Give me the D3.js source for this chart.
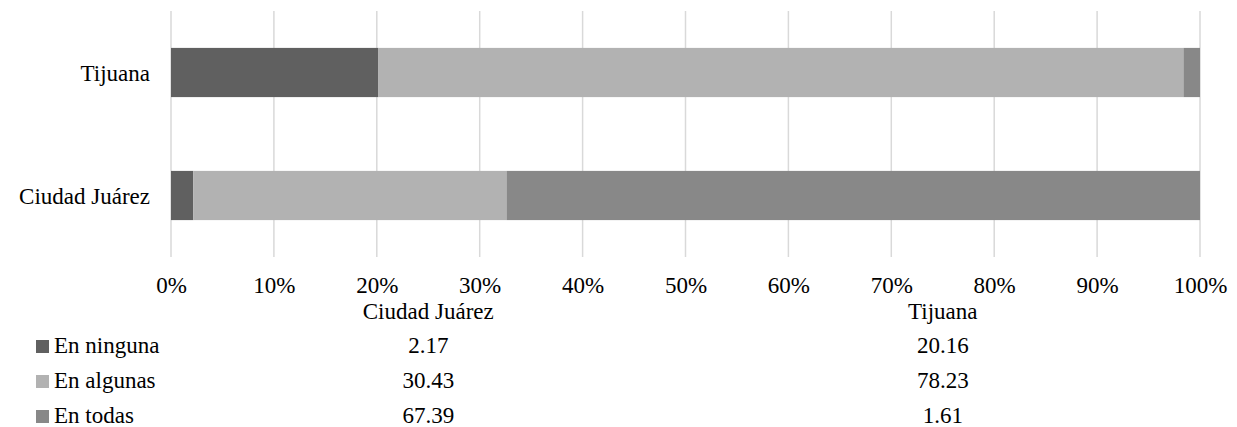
<!DOCTYPE html>
<html>
<head>
<meta charset="utf-8">
<script src="https://cdn.jsdelivr.net/npm/d3@7"></script>
<style>
  html, body { margin: 0; padding: 0; background: #fff; }
</style>
</head>
<body>
<svg id="chart" width="1237" height="427"></svg>
<script>
// Cities, drawn top to bottom
const cities = ["Tijuana", "Ciudad Juárez"];
// Table column order (below the axis)
const tableCities = ["Ciudad Juárez", "Tijuana"];
const seriesNames = ["En ninguna", "En algunas", "En todas"];
const seriesColors = ["#606060", "#b2b2b2", "#888888"];
// Percent per city for each series
const enNinguna = { "Ciudad Juárez": 2.17, "Tijuana": 20.16 };
const enAlgunas = { "Ciudad Juárez": 30.43, "Tijuana": 78.23 };
const enTodas   = { "Ciudad Juárez": 67.39, "Tijuana": 1.61 };
const tickValues = [0, 0.1, 0.2, 0.3, 0.4, 0.5, 0.6, 0.7, 0.8, 0.9, 1.0];

const seriesData = [enNinguna, enAlgunas, enTodas];
const rows = cities.map(c => {
  const r = { city: c };
  seriesNames.forEach((s, i) => { r[s] = seriesData[i][c]; });
  return r;
});

const FONT = "'Liberation Serif', Tinos, 'Times New Roman', Times, 'DejaVu Serif', serif";
const fontSize = 23;

const svg = d3.select("#chart")
  .attr("font-family", FONT)
  .style("font-family", FONT);

const x = d3.scaleLinear().domain([0, 1]).range([171, 1200]);
const y = d3.scaleBand().domain(cities).range([11, 257]).paddingInner(0.6).paddingOuter(0.3);

// Vertical gridlines
svg.append("g").selectAll("line")
  .data(tickValues)
  .join("line")
  .attr("x1", d => x(d)).attr("x2", d => x(d))
  .attr("y1", 11).attr("y2", 257)
  .attr("stroke", "#d9d9d9").attr("stroke-width", 1.5);

// Stacked bars normalised to 100%
const stack = d3.stack().keys(seriesNames).offset(d3.stackOffsetExpand);
const layers = stack(rows);

svg.append("g").selectAll("g")
  .data(layers)
  .join("g")
  .attr("fill", (d, i) => seriesColors[i])
  .selectAll("rect")
  .data(d => d)
  .join("rect")
  .attr("x", d => x(d[0]))
  .attr("width", d => x(d[1]) - x(d[0]))
  .attr("y", d => y(d.data.city))
  .attr("height", y.bandwidth());

// Category labels
svg.append("g").selectAll("text")
  .data(cities)
  .join("text")
  .attr("x", 150)
  .attr("y", d => y(d) + y.bandwidth() / 2)
  .attr("dy", "0.35em")
  .attr("text-anchor", "end")
  .attr("font-size", fontSize)
  .style("font-family", FONT)
  .text(d => d);

// X axis tick labels
const xAxis = d3.axisBottom(x).tickValues(tickValues).tickFormat(d3.format(".0%")).tickSize(0).tickPadding(0);
const axisG = svg.append("g").attr("transform", "translate(0,277)").call(xAxis);
axisG.attr("font-family", null).attr("font-size", null);
axisG.select(".domain").remove();
axisG.selectAll("text")
  .attr("font-size", fontSize)
  .style("font-family", FONT)
  .attr("fill", "#000");

// Data table below the axis
const colX = d3.scaleBand().domain(tableCities).range([171, 1200]);
svg.append("g").selectAll("text")
  .data(tableCities)
  .join("text")
  .attr("x", d => colX(d) + colX.bandwidth() / 2)
  .attr("y", 319)
  .attr("text-anchor", "middle")
  .attr("font-size", fontSize)
  .style("font-family", FONT)
  .text(d => d);

const rowY = [353, 388, 423];
const tableRows = svg.append("g").selectAll("g")
  .data(seriesNames)
  .join("g");

tableRows.append("rect")
  .attr("x", 36)
  .attr("y", (d, i) => rowY[i] - 13)
  .attr("width", 13).attr("height", 13)
  .attr("fill", (d, i) => seriesColors[i]);

tableRows.append("text")
  .attr("x", 54)
  .attr("y", (d, i) => rowY[i])
  .attr("font-size", fontSize)
  .style("font-family", FONT)
  .text(d => d);

tableRows.each(function(s, i) {
  d3.select(this).selectAll("text.val")
    .data(tableCities)
    .join("text")
    .attr("class", "val")
    .attr("x", c => colX(c) + colX.bandwidth() / 2)
    .attr("y", rowY[i])
    .attr("text-anchor", "middle")
    .attr("font-size", fontSize)
    .style("font-family", FONT)
    .text(c => seriesData[i][c].toFixed(2));
});
</script>
</body>
</html>
